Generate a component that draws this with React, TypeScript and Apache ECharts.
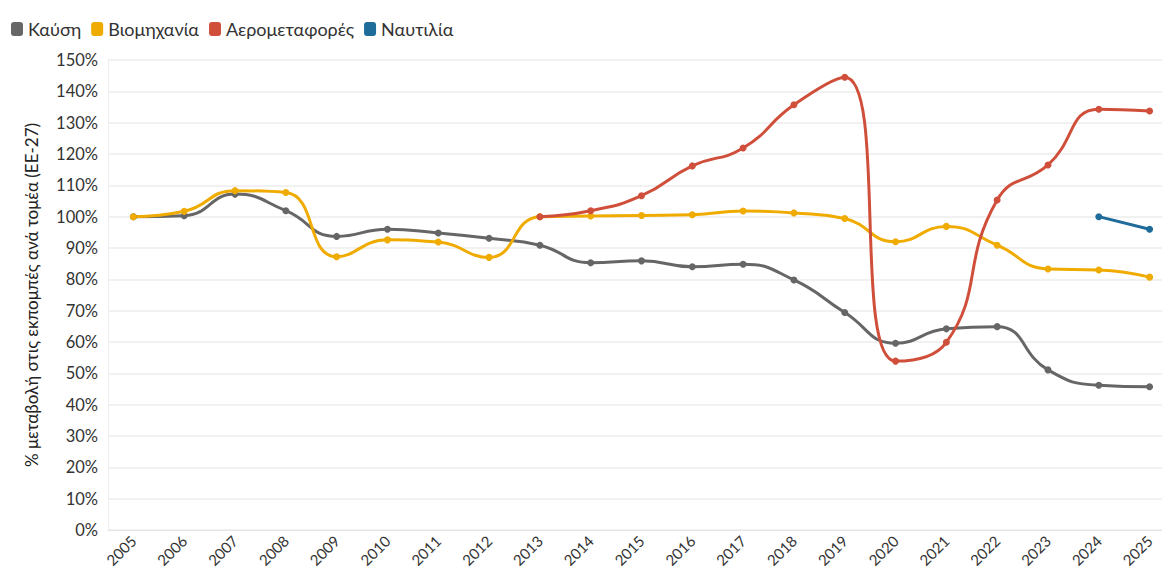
import React, { useEffect, useRef } from "react";
import * as echarts from "echarts";

const years = ["2005","2006","2007","2008","2009","2010","2011","2012","2013","2014","2015","2016","2017","2018","2019","2020","2021","2022","2023","2024","2025"];
const kafsi = [100, 100.3, 107.2, 101.9, 93.7, 96.0, 94.8, 93.1, 90.9, 85.3, 85.9, 84.0, 84.8, 79.8, 69.4, 59.6, 64.2, 64.9, 51.1, 46.2, 45.7];
const viomichania = [100, 101.7, 108.3, 107.7, 87.2, 92.6, 91.9, 87.0, 100, 100.2, 100.4, 100.6, 101.8, 101.2, 99.4, 92.0, 96.9, 90.9, 83.3, 83.0, 80.7];
const aerometafores = [null, null, null, null, null, null, null, null, 100, 101.9, 106.7, 116.2, 121.9, 135.7, 144.5, 53.9, 59.9, 105.3, 116.5, 134.3, 133.7];
const naftilia = [null, null, null, null, null, null, null, null, null, null, null, null, null, null, null, null, null, null, null, 100, 96.0];

const names = ["Καύση", "Βιομηχανία", "Αερομεταφορές", "Ναυτιλία"];
const colors = ["#666666", "#f0ab00", "#d04f3b", "#1f6b9a"];
const font = "Lato, 'Noto Sans', sans-serif";

export default function App() {
  const ref = useRef<HTMLDivElement>(null);
  useEffect(() => {
    if (!ref.current) return;
    const chart = echarts.init(ref.current, null, { renderer: "svg" });
    const datasets = [kafsi, viomichania, aerometafores, naftilia];
    chart.setOption({
      animation: false,
      textStyle: { fontFamily: font },
      color: colors,
      legend: {
        left: 6,
        top: 15,
        icon: "roundRect",
        itemWidth: 12,
        itemHeight: 14,
        itemGap: 10,
        textStyle: { fontSize: 18, color: "#333", fontFamily: font },
        data: names,
      },
      grid: { left: 108, top: 60, bottom: 46, width: 1067, outerBoundsMode: "none", containLabel: false },
      xAxis: {
        type: "category",
        data: years,
        boundaryGap: true,
        axisLine: { lineStyle: { color: "#e6e6e6", width: 1 } },
        axisTick: { alignWithLabel: true, lineStyle: { color: "#e6e6e6" }, length: 6 },
        axisLabel: { rotate: 45, color: "#333", fontSize: 15, fontFamily: font, margin: 8 },
        splitLine: { show: false },
      },
      yAxis: {
        type: "value",
        min: 0,
        max: 150,
        interval: 10,
        name: "% μεταβολή στις εκπομπές ανά τομέα (ΕΕ-27)",
        nameLocation: "middle",
        nameGap: 68,
        nameTextStyle: { fontSize: 17, color: "#222", fontFamily: font },
        axisLine: { show: true, lineStyle: { color: "#eeeeee" } },
        axisTick: { show: false },
        axisLabel: { formatter: "{value}%", color: "#333", fontSize: 16.5, fontFamily: font, margin: 10 },
        splitLine: { lineStyle: { color: "#ececec", width: 1.5 } },
      },
      series: names.map((n, i) => ({
        name: n,
        type: "line",
        data: datasets[i],
        smooth: 0.5,
        symbol: "circle",
        symbolSize: 7,
        lineStyle: { width: 3, color: colors[i] },
        itemStyle: { color: colors[i] },
        connectNulls: false,
        z: i === 2 ? 3 : 2,
      })),
    });
    return () => chart.dispose();
  }, []);
  return (
    <div
      ref={ref}
      style={{ position: "fixed", left: 0, top: 0, width: 1162, height: 576, background: "#fff" }}
    />
  );
}
